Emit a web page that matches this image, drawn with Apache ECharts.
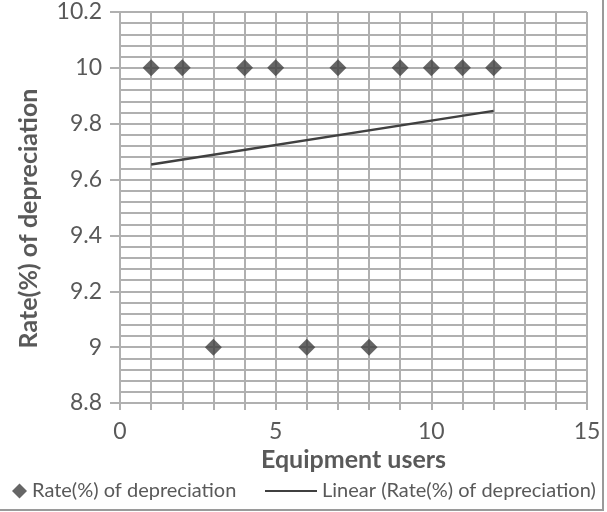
<!DOCTYPE html>
<html>
<head>
<meta charset="utf-8">
<script src="https://cdn.jsdelivr.net/npm/echarts@6/dist/echarts.min.js"></script>
<style>
  html, body { margin: 0; padding: 0; background: #fff; }
  #chart { width: 607px; height: 512px; }
</style>
</head>
<body>
<div id="chart"></div>
<script>
// Equipment users vs. depreciation rate
const users = [1, 2, 3, 4, 5, 6, 7, 8, 9, 10, 11, 12];
const rates = [10, 10, 9, 10, 10, 9, 10, 9, 10, 10, 10, 10];

// Linear trendline end points
const trendX = [1, 12];
const trendY = [9.654, 9.846];

const yTickLabels = ['8.8', '9', '9.2', '9.4', '9.6', '9.8', '10', '10.2'];
const xTickLabels = ['0', '5', '10', '15'];

const FONT = 'Lato, "Open Sans", sans-serif';
const TEXT = '#595959';
const GRID_LINE = { color: '#b0b0b0', width: 2 };

const chart = echarts.init(document.getElementById('chart'), null, { renderer: 'canvas' });

chart.setOption({
  backgroundColor: '#ffffff',
  animation: false,
  graphic: [{
    type: 'rect',
    shape: { x: -5, y: -5, width: 608, height: 515 },
    style: { fill: 'none', stroke: '#9a9a9a', lineWidth: 2 },
    silent: true,
    z: -1
  }],
  grid: { left: 120, right: 20, top: 12, bottom: 109 },
  xAxis: {
    type: 'value',
    min: 0,
    max: 15,
    interval: 1,
    name: 'Equipment users',
    nameLocation: 'middle',
    nameGap: 40,
    nameTextStyle: { fontFamily: FONT, fontSize: 25, fontWeight: 'bold', color: TEXT },
    axisLine: { show: false },
    axisTick: { show: true, length: 7, lineStyle: GRID_LINE },
    splitLine: { show: true, lineStyle: GRID_LINE },
    axisLabel: {
      fontFamily: FONT, fontSize: 23, color: TEXT, margin: 17,
      formatter: v => {
        const s = String(Math.round(v));
        return xTickLabels.includes(s) ? s : '';
      }
    }
  },
  yAxis: {
    type: 'value',
    min: 8.8,
    max: 10.2,
    interval: 0.2,
    name: 'Rate(%) of depreciation',
    nameLocation: 'middle',
    nameGap: 79,
    nameTextStyle: {
      fontFamily: FONT, fontSize: 25, fontWeight: 'bold', color: TEXT,
      padding: [0, 22, 0, 0]
    },
    axisLine: { show: false },
    axisTick: { show: true, length: 10, lineStyle: GRID_LINE },
    splitLine: { show: true, lineStyle: GRID_LINE },
    minorTick: { show: false, splitNumber: 5 },
    minorSplitLine: { show: true, lineStyle: GRID_LINE },
    axisLabel: {
      fontFamily: FONT, fontSize: 23, color: TEXT, margin: 18,
      formatter: v => {
        const idx = Math.round((v - 8.8) / 0.2);
        return yTickLabels[idx] !== undefined ? yTickLabels[idx] : '';
      }
    }
  },
  legend: [{
    left: 7,
    bottom: 6,
    data: [{ name: 'Rate(%) of depreciation', icon: 'diamond' }],
    itemWidth: 15,
    itemHeight: 15,
    itemGap: 12,
    textStyle: { fontFamily: FONT, fontSize: 20, color: TEXT }
  }, {
    left: 260,
    bottom: 6,
    data: [{ name: 'Linear (Rate(%) of depreciation)', icon: 'rect' }],
    itemWidth: 52,
    itemHeight: 2,
    itemGap: 8,
    textStyle: { fontFamily: FONT, fontSize: 20, color: TEXT }
  }],
  series: [{
    name: 'Rate(%) of depreciation',
    type: 'scatter',
    symbol: 'diamond',
    symbolSize: 17,
    itemStyle: { color: '#404040' },
    data: users.map((x, i) => [x, rates[i]]),
    z: 3
  }, {
    name: 'Linear (Rate(%) of depreciation)',
    type: 'line',
    symbol: 'none',
    lineStyle: { color: '#404040', width: 2.5 },
    itemStyle: { color: '#404040' },
    data: trendX.map((x, i) => [x, trendY[i]]),
    z: 2
  }]
});
</script>
</body>
</html>
